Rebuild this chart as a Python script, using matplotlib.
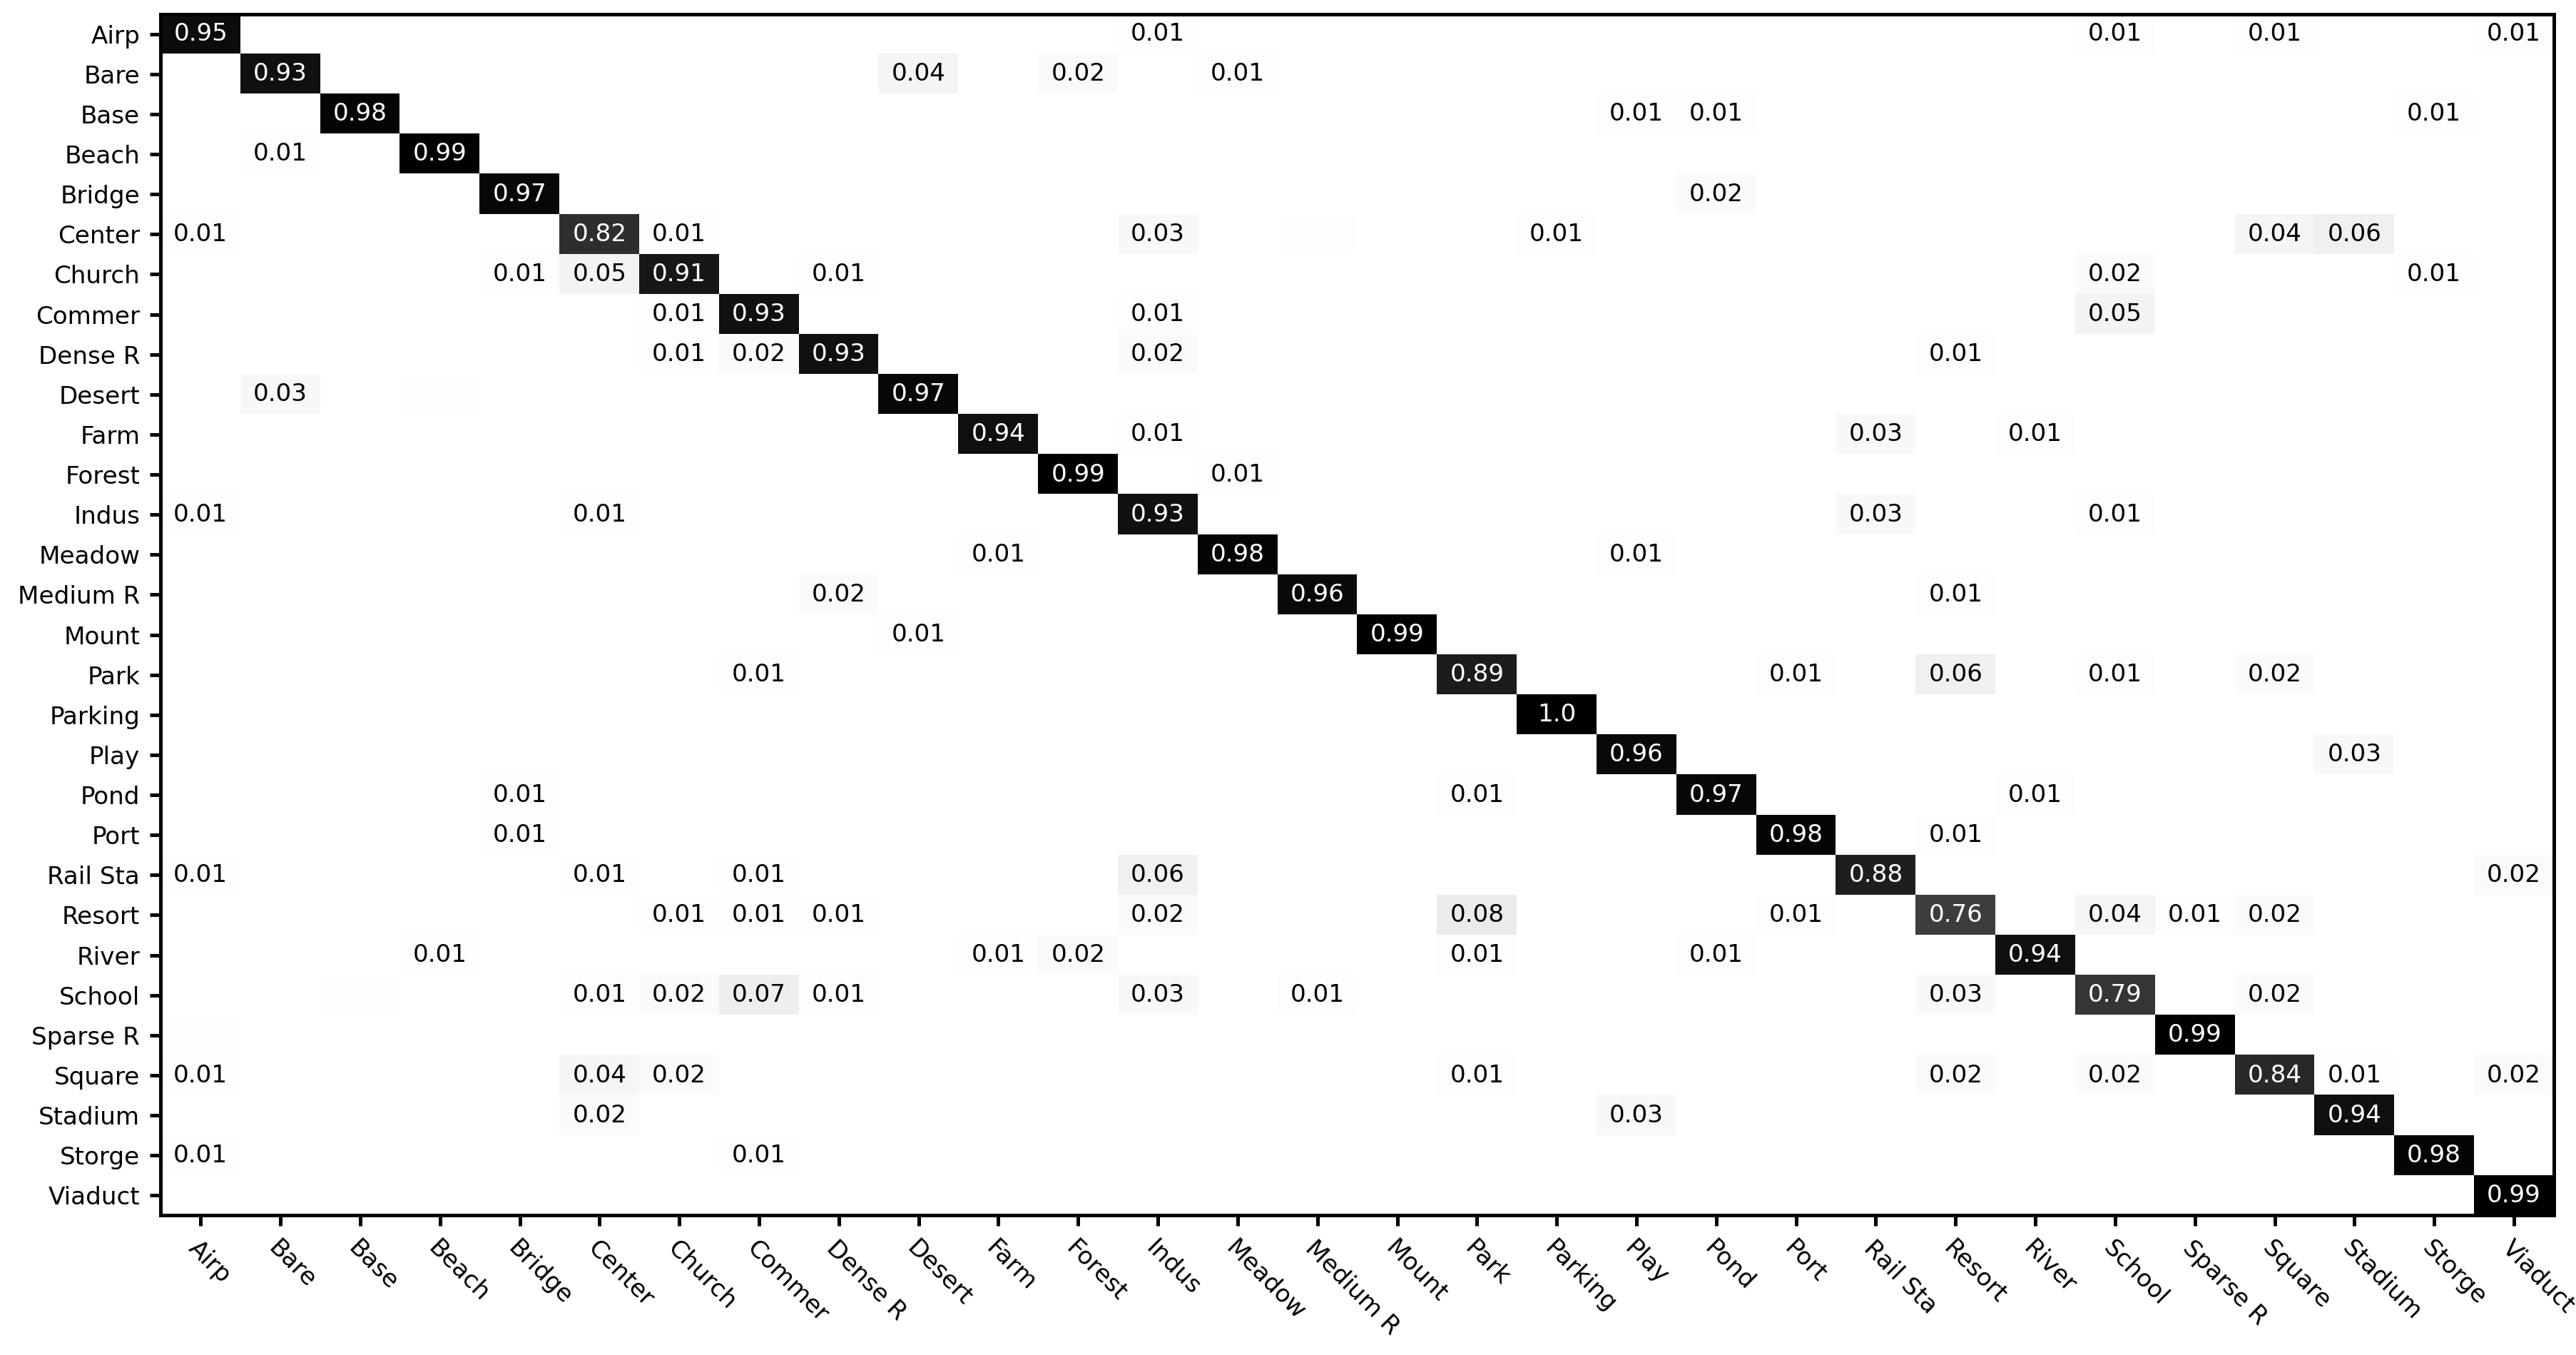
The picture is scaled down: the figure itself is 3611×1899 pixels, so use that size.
import numpy as np
import matplotlib
matplotlib.use("Agg")
import matplotlib.pyplot as plt

classes = ["Airp", "Bare", "Base", "Beach", "Bridge", "Center", "Church", "Commer",
           "Dense R", "Desert", "Farm", "Forest", "Indus", "Meadow", "Medium R",
           "Mount", "Park", "Parking", "Play", "Pond", "Port", "Rail Sta", "Resort",
           "River", "School", "Sparse R", "Square", "Stadium", "Storge", "Viaduct"]

# diagonal (correct classification rate per class)
diag_vals = [0.95, 0.93, 0.98, 0.99, 0.97, 0.82, 0.91, 0.93, 0.93, 0.97,
             0.94, 0.99, 0.93, 0.98, 0.96, 0.99, 0.89, 1.0, 0.96, 0.97,
             0.98, 0.88, 0.76, 0.94, 0.79, 0.99, 0.84, 0.94, 0.98, 0.99]

# off-diagonal confusions: row (true), col (predicted), value
off_rows = [0, 0, 0, 0,
            1, 1, 1,
            2, 2, 2,
            3,
            4,
            5, 5, 5, 5, 5, 5, 5,
            6, 6, 6, 6, 6,
            7, 7, 7,
            8, 8, 8, 8,
            9, 9,
            10, 10, 10,
            11,
            12, 12, 12, 12,
            13, 13,
            14, 14,
            15,
            16, 16, 16, 16, 16,
            18,
            19, 19, 19,
            20, 20,
            21, 21, 21, 21, 21, 21,
            22, 22, 22, 22, 22, 22, 22, 22, 22, 22,
            23, 23, 23, 23, 23,
            24, 24, 24, 24, 24, 24, 24, 24, 24,
            25,
            26, 26, 26, 26, 26, 26, 26, 26,
            27, 27,
            28, 28, 28, 28]
off_cols = [12, 24, 26, 29,
            9, 11, 13,
            18, 19, 28,
            1,
            19,
            0, 6, 12, 14, 17, 26, 27,
            4, 5, 8, 24, 28,
            6, 12, 24,
            6, 7, 12, 22,
            1, 3,
            12, 21, 23,
            13,
            0, 5, 21, 24,
            10, 18,
            8, 22,
            9,
            7, 20, 22, 24, 26,
            27,
            4, 16, 23,
            4, 22,
            0, 5, 7, 12, 18, 29,
            4, 6, 7, 8, 12, 16, 20, 24, 25, 26,
            3, 10, 11, 16, 19,
            2, 5, 6, 7, 8, 12, 14, 22, 26,
            0,
            0, 5, 6, 16, 22, 24, 27, 29,
            5, 18,
            0, 7, 10, 11]
off_vals = [0.01, 0.01, 0.01, 0.01,
            0.04, 0.02, 0.01,
            0.01, 0.01, 0.01,
            0.01,
            0.02,
            0.01, 0.01, 0.03, 0.004, 0.01, 0.04, 0.06,
            0.01, 0.05, 0.01, 0.02, 0.01,
            0.01, 0.01, 0.05,
            0.01, 0.02, 0.02, 0.01,
            0.03, 0.004,
            0.01, 0.03, 0.01,
            0.01,
            0.01, 0.01, 0.03, 0.01,
            0.01, 0.01,
            0.02, 0.01,
            0.01,
            0.01, 0.01, 0.06, 0.01, 0.02,
            0.03,
            0.01, 0.01, 0.01,
            0.01, 0.01,
            0.01, 0.01, 0.01, 0.06, 0.003, 0.02,
            0.003, 0.01, 0.01, 0.01, 0.02, 0.08, 0.01, 0.04, 0.01, 0.02,
            0.01, 0.01, 0.02, 0.01, 0.01,
            0.004, 0.01, 0.02, 0.07, 0.01, 0.03, 0.01, 0.03, 0.02,
            0.004,
            0.01, 0.04, 0.02, 0.01, 0.02, 0.02, 0.01, 0.02,
            0.02, 0.03,
            0.01, 0.01, 0.003, 0.003]

n = len(classes)
cm = np.zeros((n, n))
cm[np.arange(n), np.arange(n)] = diag_vals
cm[off_rows, off_cols] = off_vals

plt.rcParams["font.size"] = 8.2
fig = plt.figure(figsize=(3611 / 300, 1899 / 300), dpi=300)
ax = fig.add_axes([0.0624, 0.10295, 0.929, 0.88678])
ax.imshow(cm, cmap="gray_r", vmin=0, vmax=1, aspect="auto", interpolation="nearest")

for i in range(n):
    for j in range(n):
        v = round(cm[i, j], 2)
        if v > 0:
            ax.text(j, i, str(v), ha="center", va="center",
                    color="white" if v > 0.5 else "black", fontsize=8.2)

ax.set_xticks(range(n))
ax.set_yticks(range(n))
ax.set_xticklabels(classes, rotation=-45, ha="left", rotation_mode="anchor")
ax.set_yticklabels(classes)
ax.tick_params(width=1.2, length=3.5)
for s in ax.spines.values():
    s.set_linewidth(1.2)

fig.savefig("out.png", dpi=300)
